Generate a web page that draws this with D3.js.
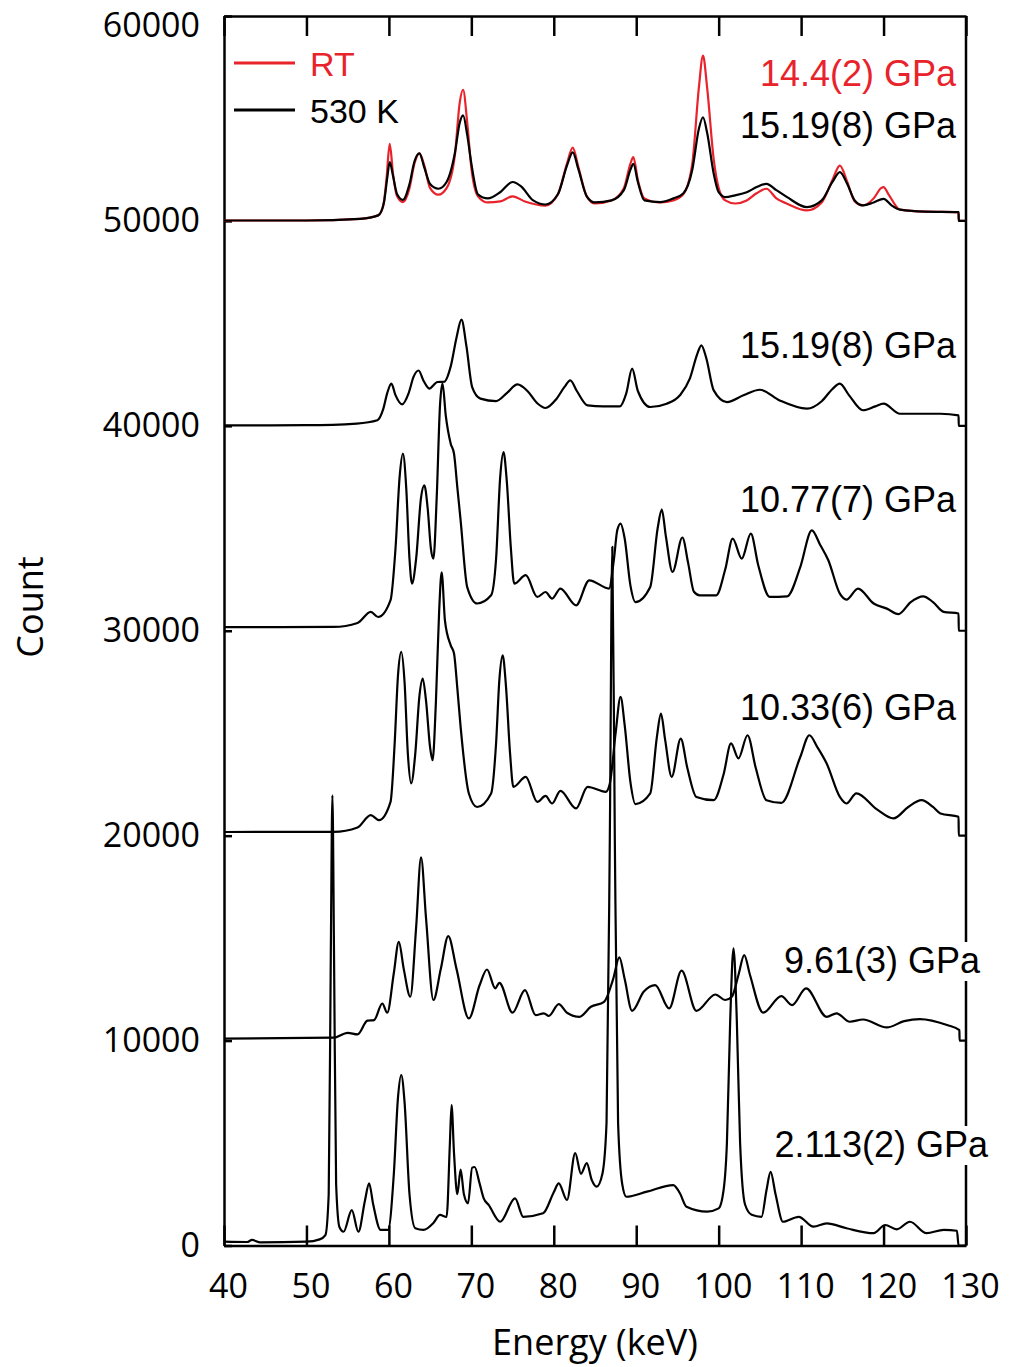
<!DOCTYPE html>
<html>
<head>
<meta charset="utf-8">
<script src="https://cdn.jsdelivr.net/npm/d3@7"></script>
<style>
  body { margin: 0; background: #fff; }
  .axis path, .axis line { stroke: #000; stroke-width: 2.5px; }
  .axis .tick text { font-family: 'Open Sans', sans-serif; font-size: 34px; fill: #000; }
  .axis-title { font-family: 'Open Sans', sans-serif; font-size: 36px; fill: #000; }
  .curve-label { font-family: 'Liberation Sans', Arial, sans-serif; font-size: 36px; }
  .legend-label { font-family: 'Liberation Sans', Arial, sans-serif; font-size: 34px; }
</style>
</head>
<body>
<svg id="chart"></svg>
<script>
// [energy keV, count], each spectrum offset by 10000
const specRT = [
  [40, 50020], [50, 50020], [56.5, 50100], [58.7, 50270], [59.3, 50700], [59.7, 52000], [60.1, 53760],
  [60.5, 52300], [61.0, 51200], [61.7, 50920], [62.5, 51600], [63.1, 52800], [63.7, 53300], [64.3, 52700],
  [65.0, 51600], [66.0, 51280], [67.0, 51600], [68.0, 53200], [68.6, 55800], [69.0, 56400], [69.5, 54800],
  [70.0, 52600], [70.8, 51200], [72.0, 50900], [73.5, 50950], [75.0, 51200], [76.5, 50950], [79.0, 50750],
  [80.5, 51300], [81.6, 52800], [82.3, 53580], [83.0, 52600], [84.0, 51200], [85.0, 50850], [87.0, 51000],
  [88.5, 51600], [89.3, 52800], [89.65, 53110], [90.2, 52000], [91.0, 51100], [92.9, 50900], [94.5, 51000],
  [95.7, 51300], [96.8, 52800], [97.6, 56500], [98.1, 58070], [98.6, 56500], [99.4, 53000], [100.0, 51600],
  [100.8, 51000], [102.0, 50850], [103.4, 51000], [104.6, 51350], [105.8, 51570], [107.0, 51100], [108.3, 50840],
  [110.7, 50510], [112.5, 50900], [113.8, 52000], [114.7, 52700], [115.6, 51900], [116.5, 50950], [117.5, 50760],
  [118.8, 51100], [119.7, 51600], [120.0, 51650], [120.6, 51300], [122.0, 50550], [125.0, 50450], [129.1, 50430],
  [129.12, 50000], [130, 50000]
];

const spec530K = [
  [40, 50020], [50, 50020], [56.5, 50100], [58.7, 50270], [59.4, 50900], [59.8, 52100], [60.1, 52870],
  [60.5, 52200], [61.0, 51300], [61.7, 51030], [62.5, 51800], [63.1, 52900], [63.7, 53300], [64.3, 52600],
  [65.0, 51800], [66.0, 51570], [67.0, 51900], [68.0, 53300], [68.6, 54800], [69.0, 55150], [69.5, 54200],
  [70.0, 52800], [70.8, 51300], [72.0, 51100], [73.5, 51400], [75.0, 51900], [76.0, 51700], [77.5, 51000],
  [79.0, 50800], [80.5, 51300], [81.6, 52700], [82.3, 53340], [83.0, 52500], [84.0, 51200], [85.0, 50900],
  [87.0, 51000], [88.5, 51500], [89.3, 52500], [89.65, 52790], [90.2, 51900], [91.0, 51000], [92.9, 50920],
  [94.5, 51100], [95.7, 51340], [96.8, 52500], [97.6, 54500], [98.1, 55060], [98.6, 54300], [99.4, 52300],
  [100.0, 51400], [100.8, 51160], [102.0, 51250], [103.4, 51400], [104.6, 51650], [105.8, 51810], [107.0, 51500],
  [108.3, 51160], [110.7, 50670], [112.5, 51000], [113.8, 51900], [114.7, 52380], [115.6, 51800], [116.5, 51000],
  [117.5, 50760], [118.8, 50900], [120.0, 51080], [121.0, 50750], [122.0, 50550], [125.0, 50450], [129.1, 50430],
  [129.12, 50000], [130, 50000]
];

const spec1519 = [
  [40, 40020], [50, 40030], [56.1, 40110], [58.6, 40270], [59.3, 40800], [59.8, 41600], [60.3, 42060],
  [60.8, 41500], [61.6, 41050], [62.4, 41600], [63.0, 42400], [63.6, 42700], [64.2, 42200], [64.9, 41820],
  [65.9, 42140], [66.7, 42150], [67.5, 42900], [68.2, 44300], [68.8, 45180], [69.4, 43900], [70.1, 41890],
  [71.1, 41330], [73.0, 41210], [74.3, 41600], [75.6, 42020], [76.8, 41700], [78.0, 41100], [79.0, 40870],
  [80.3, 41300], [81.3, 41900], [82.0, 42220], [82.8, 41700], [84.1, 41000], [86.0, 40950], [88.0, 40950],
  [88.8, 41600], [89.5, 42790], [90.2, 41700], [91.7, 40920], [93.7, 41080], [95.3, 41490], [96.5, 42300],
  [97.4, 43500], [97.9, 43930], [98.5, 43300], [99.4, 41730], [101.0, 41160], [103.0, 41490], [105.0, 41760],
  [107.4, 41240], [110.7, 40840], [112.5, 41200], [113.8, 41800], [114.7, 42060], [115.8, 41500], [117.5, 40760],
  [119.0, 40950], [120.0, 41080], [122.0, 40590], [126.9, 40590], [129.1, 40510], [129.12, 40000], [130, 40000]
];

const spec1077 = [
  [40, 30180], [53.3, 30185], [56.2, 30380], [57.8, 30920], [58.7, 30670], [60.2, 31490], [60.8, 34000],
  [61.3, 37500], [61.7, 38640], [62.1, 37000], [62.5, 33500], [62.8, 32300], [63.3, 33500], [63.9, 36500],
  [64.3, 37100], [64.7, 36000], [65.1, 34000], [65.4, 33520], [65.8, 36500], [66.2, 41000], [66.5, 42070],
  [66.9, 40500], [67.5, 39130], [67.9, 38640], [68.3, 37000], [68.7, 35390], [69.5, 32130], [70.7, 31330],
  [72.4, 31730], [73.0, 33500], [73.5, 37500], [73.9, 38720], [74.3, 37300], [74.8, 34000], [75.2, 32300],
  [76.6, 32710], [78.0, 31650], [79.0, 31890], [79.8, 31570], [80.8, 32060], [82.7, 31240], [84.3, 32460],
  [86.7, 32060], [87.3, 33500], [87.7, 34900], [88.1, 35230], [88.6, 34500], [89.3, 32200], [89.9, 31400],
  [91.7, 32140], [92.6, 35000], [93.1, 35910], [93.6, 34600], [94.4, 32870], [95.6, 34550], [96.3, 33300],
  [97.0, 31900], [97.7, 31730], [99.7, 31730], [100.8, 33000], [101.7, 34500], [102.8, 33520], [103.9, 34740],
  [104.8, 33200], [106.2, 31650], [108.3, 31680], [109.9, 33110], [111.3, 34900], [112.3, 34200], [113.3, 33440],
  [114.7, 31810], [115.5, 31520], [116.9, 32060], [118.8, 31330], [120.4, 31080], [121.8, 30810], [123.3, 31400],
  [124.8, 31680], [126.0, 31400], [127.3, 30920], [129.1, 30840], [129.12, 30000], [130, 30000]
];

const spec1033 = [
  [40, 20180], [53.3, 20185], [56.2, 20400], [57.8, 21000], [58.8, 20760], [60.2, 21650], [60.7, 24500],
  [61.1, 27800], [61.5, 28970], [61.9, 27500], [62.3, 24000], [62.7, 22550], [63.2, 24000], [63.7, 26800],
  [64.1, 27670], [64.5, 26600], [65.0, 24300], [65.3, 23680], [65.7, 26500], [66.1, 31000], [66.4, 32850],
  [66.8, 30500], [67.5, 29290], [67.9, 28890], [68.3, 27200], [68.7, 25310], [69.7, 22060], [70.7, 21400],
  [72.4, 22060], [73.0, 24500], [73.4, 27600], [73.8, 28800], [74.2, 27300], [74.7, 24000], [75.1, 22380],
  [76.6, 22870], [78.0, 21650], [79.0, 21940], [79.8, 21570], [80.8, 22190], [82.7, 21330], [84.1, 22380],
  [86.3, 22140], [86.8, 22550], [87.5, 25000], [88.1, 26770], [88.6, 25400], [89.3, 22600], [89.9, 21540],
  [91.7, 22060], [92.5, 24800], [93.0, 25960], [93.5, 24700], [94.3, 22870], [95.4, 24740], [96.2, 23300],
  [97.3, 21890], [99.4, 21730], [100.6, 23000], [101.5, 24500], [102.4, 23770], [103.5, 24900], [104.5, 23300],
  [105.8, 21730], [107.6, 21600], [109.9, 23840], [111.0, 24900], [112.0, 24300], [113.1, 23520], [114.7, 21890],
  [115.5, 21570], [116.7, 22060], [119.2, 21280], [121.2, 20840], [123.0, 21400], [124.6, 21730], [126.0, 21400],
  [126.9, 21080], [129.1, 20920], [129.12, 20000], [130, 20000]
];

const spec961 = [
  [40, 10100], [53.3, 10140], [55.0, 10380], [56.2, 10300], [57.4, 10970], [58.2, 11000], [59.2, 11810],
  [59.8, 11360], [60.6, 13300], [61.2, 14820], [61.8, 13500], [62.6, 12140], [63.3, 15500], [63.9, 18940],
  [64.5, 16000], [65.4, 11980], [66.3, 13500], [67.2, 15100], [68.2, 13500], [69.7, 11080], [71.0, 12700],
  [71.9, 13470], [72.9, 12550], [73.4, 12820], [75.0, 11360], [76.5, 12460], [77.8, 11240], [78.8, 11330],
  [79.4, 11200], [80.6, 11780], [81.6, 11360], [83.1, 11160], [84.5, 11650], [86.1, 11890], [87.2, 13000],
  [87.95, 14060], [88.6, 13000], [89.5, 11450], [90.9, 12380], [92.3, 12710], [94.0, 11570], [95.5, 13410],
  [97.3, 11450], [99.6, 12250], [100.8, 11980], [101.6, 12140], [102.4, 13200], [103.1, 14170], [103.8, 13200],
  [105.4, 11360], [107.6, 12170], [108.9, 11730], [110.6, 12550], [113.1, 11160], [114.3, 11330], [115.9, 10920],
  [117.5, 11030], [120.4, 10640], [122.5, 10950], [124.4, 11050], [127.7, 10760], [129.2, 10510],
  [129.22, 10000], [130, 10000]
];

const spec2113 = [
  [40, 185], [42.8, 170], [43.4, 270], [44.4, 155], [50.0, 185], [51.6, 300], [52.3, 510], [52.7, 2500],
  [52.95, 14000], [53.15, 21970], [53.35, 14000], [53.6, 3000], [54.0, 900], [54.5, 670], [55.5, 1730],
  [56.3, 670], [57.1, 2200], [57.6, 3030], [58.1, 2000], [59.0, 760], [59.9, 760], [60.6, 3500], [61.1, 7200],
  [61.5, 8320], [61.9, 7000], [62.5, 2500], [63.2, 840], [64.2, 760], [65.4, 1100], [66.2, 1490], [67.0, 1400],
  [67.4, 5000], [67.6, 6850], [67.9, 4500], [68.3, 2500], [68.7, 3700], [69.1, 2500], [69.6, 2060], [70.1, 3800],
  [70.4, 3830], [71.0, 3030], [71.5, 2300], [72.1, 1980], [73.5, 1160], [75.3, 2300], [76.3, 1400], [78.7, 1570],
  [80.0, 2600], [80.6, 3030], [81.6, 2220], [82.6, 4510], [83.3, 3500], [84.0, 4020], [84.6, 3200], [85.2, 2870],
  [85.9, 3500], [86.4, 6000], [86.8, 20000], [87.1, 34100], [87.4, 20000], [87.8, 6000], [88.3, 3000],
  [88.8, 2380], [91.3, 2630], [94.5, 2950], [95.3, 2550], [96.1, 1890], [98.6, 1650], [100.0, 1810],
  [100.6, 2710], [101.0, 5000], [101.4, 11000], [101.8, 14500], [102.2, 11000], [102.6, 5000], [103.2, 2000],
  [104.0, 1500], [105.2, 1400], [105.8, 2700], [106.3, 3590], [106.9, 2500], [107.8, 1160], [109.7, 1400],
  [111.5, 920], [113.1, 1080], [115.5, 840], [118.8, 600], [120.2, 1000], [121.6, 790], [123.2, 1160],
  [125.2, 600], [127.3, 760], [128.9, 720], [129.1, 0], [130, 0]
];

const xTicks = [40, 50, 60, 70, 80, 90, 100, 110, 120, 130];
const yTicks = [0, 10000, 20000, 30000, 40000, 50000, 60000];

const series = [
  { name: 'RT', values: specRT, color: '#e8232b' },
  { name: '530 K', values: spec530K, color: '#000' },
  { name: '15.19', values: spec1519, color: '#000' },
  { name: '10.77', values: spec1077, color: '#000' },
  { name: '10.33', values: spec1033, color: '#000' },
  { name: '9.61', values: spec961, color: '#000' },
  { name: '2.113', values: spec2113, color: '#000' }
];

const legendItems = ['RT', '530 K'];
const pressureLabels = ['14.4(2) GPa', '15.19(8) GPa', '15.19(8) GPa', '10.77(7) GPa', '10.33(6) GPa', '9.61(3) GPa', '2.113(2) GPa'];

class SpectraChart {
  constructor(_config) {
    this.config = {
      parentElement: _config.parentElement,
      containerWidth: 1010,
      containerHeight: 1367,
      margin: { top: 16, right: 44, bottom: 121.5, left: 224 },
    };
    this.initVis();
  }

  initVis() {
    const vis = this;
    vis.width = vis.config.containerWidth - vis.config.margin.left - vis.config.margin.right;
    vis.height = vis.config.containerHeight - vis.config.margin.top - vis.config.margin.bottom;

    vis.xScale = d3.scaleLinear().domain([40, 130]).range([0, vis.width]);
    vis.yScale = d3.scaleLinear().domain([0, 60000]).range([vis.height, 0]);

    vis.svg = d3.select(vis.config.parentElement)
      .attr('width', vis.config.containerWidth)
      .attr('height', vis.config.containerHeight);

    vis.chart = vis.svg.append('g')
      .attr('transform', `translate(${vis.config.margin.left},${vis.config.margin.top})`);

    vis.renderAxes();
    vis.renderCurves();
    vis.renderLegend();
    vis.renderLabels();
  }

  renderAxes() {
    const vis = this;

    vis.chart.append('g')
      .attr('class', 'axis x-axis')
      .attr('transform', `translate(0,${vis.height})`)
      .call(d3.axisBottom(vis.xScale).tickValues(xTicks).tickSize(-20).tickSizeOuter(0).tickPadding(28))
      .selectAll('text').attr('dx', 4);

    vis.chart.append('g')
      .attr('class', 'axis x-axis-top')
      .call(d3.axisTop(vis.xScale).tickValues(xTicks).tickSize(-20).tickSizeOuter(0).tickFormat(''));

    const yAxisG = vis.chart.append('g')
      .attr('class', 'axis y-axis')
      .call(d3.axisLeft(vis.yScale).tickValues(yTicks).tickFormat(d3.format('d'))
        .tickSize(-8).tickSizeOuter(0).tickPadding(24));
    // top label sits a little lower than its tick in the original
    yAxisG.selectAll('.tick text').filter((d) => d === 60000).attr('dy', '0.6em');

    vis.chart.append('line')
      .attr('class', 'right-edge')
      .attr('x1', vis.width).attr('x2', vis.width)
      .attr('y1', 0).attr('y2', vis.height)
      .attr('stroke', '#000').attr('stroke-width', 2.5);

    vis.svg.append('text')
      .attr('class', 'axis-title')
      .attr('x', 595)
      .attr('y', 1355)
      .attr('text-anchor', 'middle')
      .text('Energy (keV)');

    vis.svg.append('text')
      .attr('class', 'axis-title')
      .attr('transform', 'translate(43,607) rotate(-90)')
      .attr('text-anchor', 'middle')
      .text('Count');
  }

  renderCurves() {
    const vis = this;
    const line = d3.line()
      .x((d) => vis.xScale(d[0]))
      .y((d) => vis.yScale(d[1]))
      .curve(d3.curveMonotoneX);

    vis.chart.append('g')
      .selectAll('path')
      .data(series)
      .join('path')
      .attr('fill', 'none')
      .attr('stroke', (d) => d.color)
      .attr('stroke-width', 2.2)
      .attr('stroke-linejoin', 'round')
      .attr('d', (d) => line(d.values));
  }

  renderLegend() {
    const vis = this;
    const legend = vis.chart.append('g').attr('class', 'legend');
    legend.selectAll('line')
      .data(legendItems)
      .join('line')
      .attr('x1', 10).attr('x2', 71)
      .attr('y1', (d, i) => 47 + i * 47)
      .attr('y2', (d, i) => 47 + i * 47)
      .attr('stroke', (d) => series.find((s) => s.name === d).color)
      .attr('stroke-width', 3);
    legend.selectAll('text')
      .data(legendItems)
      .join('text')
      .attr('class', 'legend-label')
      .attr('x', 86)
      .attr('y', (d, i) => 60 + i * 47)
      .attr('fill', (d) => series.find((s) => s.name === d).color)
      .text((d) => d);
  }

  renderLabels() {
    const vis = this;
    // label placement in page pixels: right edge, baseline, white backing
    const spots = [
      { x: 956, y: 86, bg: false },
      { x: 956, y: 138, bg: false },
      { x: 956, y: 358, bg: false },
      { x: 956, y: 512, bg: false },
      { x: 956, y: 720, bg: false },
      { x: 980, y: 973, bg: true },
      { x: 988, y: 1157, bg: true },
    ];
    pressureLabels.forEach((txt, i) => {
      const s = spots[i];
      const g = vis.svg.append('g');
      const t = g.append('text')
        .attr('class', 'curve-label')
        .attr('x', s.x).attr('y', s.y)
        .attr('text-anchor', 'end')
        .attr('fill', i === 0 ? series[0].color : '#000')
        .text(txt);
      if (s.bg) {
        const b = t.node().getBBox();
        g.insert('rect', 'text')
          .attr('x', b.x - 2).attr('y', b.y + 2)
          .attr('width', b.width + 4).attr('height', b.height - 2)
          .attr('fill', '#fff');
      }
    });
  }
}

new SpectraChart({ parentElement: '#chart' });
</script>
</body>
</html>
